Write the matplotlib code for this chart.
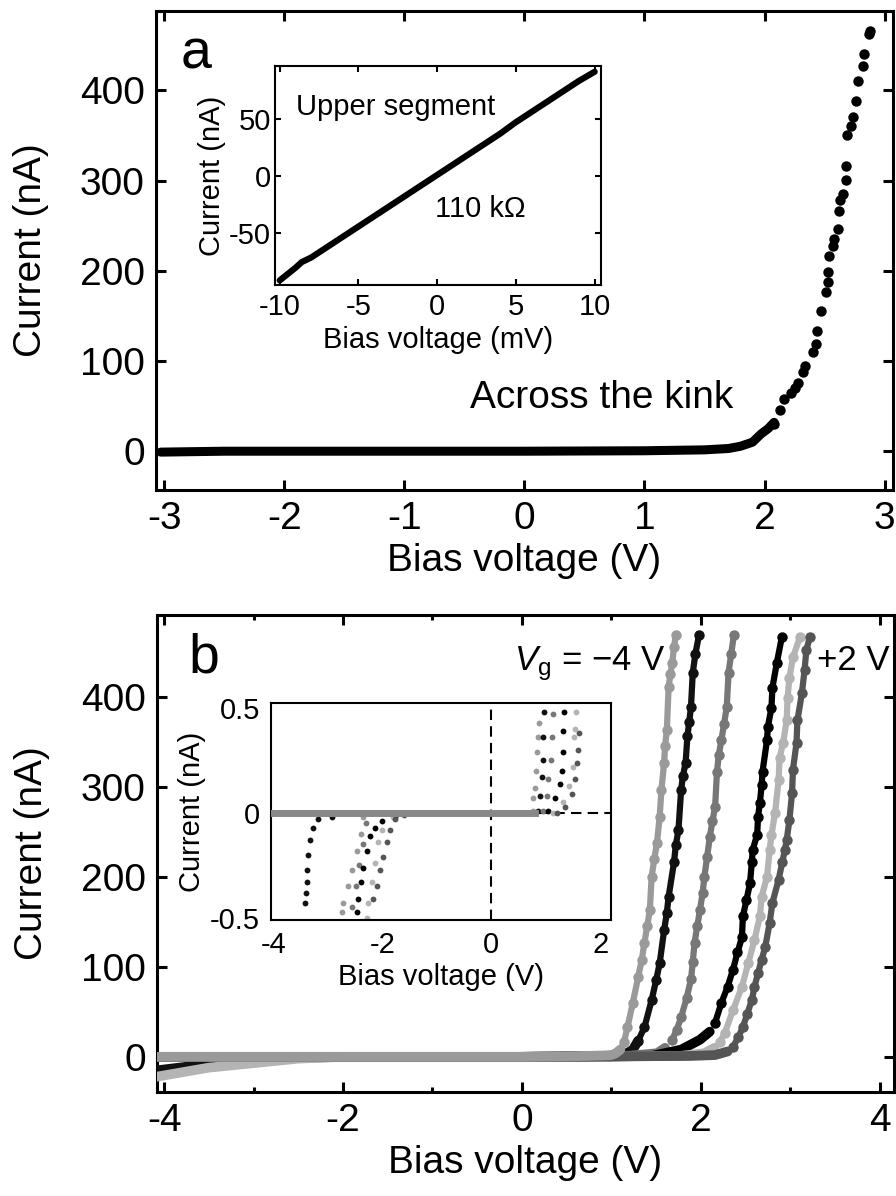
import matplotlib
matplotlib.use('Agg')
import matplotlib.pyplot as plt
from matplotlib.ticker import FixedLocator

plt.rcParams['font.family'] = ['Liberation Sans', 'DejaVu Sans']
plt.rcParams['axes.unicode_minus'] = False
plt.rcParams['mathtext.fontset'] = 'custom'
plt.rcParams['mathtext.rm'] = 'Liberation Sans'
plt.rcParams['mathtext.it'] = 'Liberation Sans:italic'

# ---- panel a: I-V across the kink ----
a_flat_v = [-3.03, -2.5, -2.0, -1.0, 0.0, 1.0, 1.5, 1.7, 1.8, 1.9, 1.97, 2.03, 2.08]
a_flat_i = [-1, 0, 0, 0, 0, 0.5, 1.5, 3, 5.5, 10, 19, 25, 32]
a_rise_v = [2.075, 2.13, 2.16, 2.22, 2.25, 2.275, 2.32, 2.34, 2.40, 2.425, 2.44, 2.47,
            2.51, 2.53, 2.53, 2.54, 2.57, 2.58, 2.61, 2.62, 2.63, 2.65, 2.68, 2.675,
            2.69, 2.72, 2.74, 2.76, 2.775, 2.82, 2.83, 2.87, 2.88]
a_rise_i = [30, 46, 58, 65, 70, 76, 88, 94, 110, 119, 133, 155,
            177, 188, 199, 216, 227, 235, 246, 266, 279, 285, 301, 316,
            351, 360, 371, 388, 410, 427, 440, 462, 466]

# inset a: upper segment, ohmic
ia_v = [-10.0, -9.0, -8.6, -8.0, -7.0, -6.0, -5.0, -4.0, -3.0, -2.0, -1.0, 0.0,
        1.0, 2.0, 3.0, 4.0, 5.0, 6.0, 7.0, 8.0, 9.0, 10.0]
ia_i = [-91, -80, -75, -71, -62, -53, -44, -35, -26, -17, -8, 1,
        10, 19, 28, 37, 47, 56, 65, 74, 83, 91]

# ---- panel b: gate dependence, Vg = -4 V ... +2 V ----
b_colors = ['#9a9a9a', '#111111', '#777777', '#000000', '#b4b4b4', '#555555']

b_flat_v = [
    [-4.08, -3.0, -2.0, -1.0, 0.0, 0.5, 0.9, 1.0, 1.05, 1.10],
    [-4.08, -3.5, -3.0, -2.5, -2.0, 0.0, 1.0, 1.14, 1.24, 1.30],
    [-4.08, -2.0, 0.0, 1.0, 1.18, 1.40, 1.51, 1.60],
    [-4.08, -2.0, 0.0, 1.0, 1.45, 1.78, 1.99, 2.10],
    [-4.08, -3.5, -3.0, -2.5, -2.0, 0.0, 1.0, 1.77, 2.04, 2.15],
    [-4.08, -2.0, 0.0, 1.0, 1.88, 2.16, 2.30],
]
b_flat_i = [
    [0, 0, 0, 0, 0, 0.5, 1.5, 2, 4, 8],
    [-15, -8, -4, -1, 0, 0, 1, 2, 8, 18],
    [0, 0, 0, 0.5, 1, 3, 4, 10],
    [0, 0, 0, 0.5, 1, 8, 19, 28],
    [-22, -12, -7, -2, 0, 0, 0.5, 1, 4, 10],
    [0, 0, 0, 0.5, 1, 2, 6],
]
b_rise_v = [
    [1.10, 1.14, 1.18, 1.24, 1.30, 1.34, 1.37, 1.40, 1.43, 1.45, 1.48, 1.51, 1.54,
     1.56, 1.59, 1.60, 1.62, 1.64, 1.66, 1.68, 1.70, 1.72],
    [1.30, 1.37, 1.45, 1.50, 1.54, 1.59, 1.62, 1.64, 1.70, 1.72, 1.75, 1.78, 1.80,
     1.83, 1.85, 1.87, 1.89, 1.91, 1.94, 1.98],
    [1.68, 1.73, 1.78, 1.84, 1.89, 1.91, 1.93, 1.96, 1.99, 2.02, 2.04, 2.07, 2.10,
     2.13, 2.16, 2.18, 2.20, 2.23, 2.26, 2.29, 2.31, 2.34, 2.37],
    [2.16, 2.23, 2.30, 2.36, 2.41, 2.46, 2.47, 2.51, 2.55, 2.57, 2.58, 2.63, 2.64,
     2.66, 2.68, 2.69, 2.74, 2.75, 2.79, 2.80, 2.85, 2.905],
    [2.21, 2.27, 2.36, 2.46, 2.53, 2.60, 2.66, 2.68, 2.74, 2.77, 2.79, 2.83, 2.87,
     2.88, 2.92, 2.96, 2.97, 2.99, 3.03, 3.11],
    [2.36, 2.42, 2.47, 2.52, 2.57, 2.60, 2.64, 2.68, 2.72, 2.77, 2.80, 2.87, 2.91,
     2.94, 2.96, 2.99, 3.02, 3.03, 3.07, 3.08, 3.13, 3.16, 3.18, 3.22],
]
b_rise_i = [
    [8, 16, 33, 60, 89, 108, 127, 145, 163, 200, 220, 238, 267,
     297, 327, 345, 363, 411, 425, 438, 455, 469],
    [18, 33, 63, 85, 104, 141, 160, 178, 216, 235, 252, 297, 312,
     327, 356, 372, 389, 427, 448, 469],
    [19, 30, 44, 65, 86, 105, 127, 145, 163, 182, 200, 222, 244,
     262, 278, 316, 335, 352, 370, 389, 427, 448, 469],
    [38, 60, 78, 97, 116, 133, 156, 174, 193, 216, 230, 247, 267,
     282, 302, 317, 352, 367, 388, 410, 438, 466],
    [16, 27, 52, 78, 104, 130, 156, 178, 200, 230, 247, 271, 308,
     332, 349, 374, 399, 421, 444, 467],
    [11, 22, 33, 48, 63, 78, 93, 108, 122, 149, 171, 197, 216,
     230, 241, 263, 293, 319, 349, 374, 404, 430, 452, 467],
]

# inset b: threshold region, nA scale
ib_flat_v = [-4.05, -2.0, 0.0, 0.8]
ib_flat_i = [0, 0, 0, 0]
ib_pos_v = [
    [0.77, 0.77, 0.81, 0.83, 0.84, 0.86, 0.88],
    [0.86, 0.90, 0.94, 0.95, 0.95, 0.97],
    [0.95, 1.03, 1.05, 1.10, 1.12, 1.14],
    [1.05, 1.17, 1.27, 1.30, 1.32, 1.32, 1.34],
    [1.14, 1.32, 1.43, 1.50, 1.52, 1.54, 1.56],
    [1.21, 1.36, 1.49, 1.54, 1.58, 1.60, 1.61],
]
ib_pos_i = [
    [0.01, 0.07, 0.12, 0.20, 0.29, 0.36, 0.43],
    [0.01, 0.08, 0.17, 0.25, 0.36, 0.48],
    [0.01, 0.08, 0.16, 0.25, 0.36, 0.47],
    [0.01, 0.07, 0.14, 0.20, 0.29, 0.39, 0.48],
    [0.00, 0.05, 0.13, 0.22, 0.36, 0.40, 0.48],
    [0.00, 0.03, 0.09, 0.16, 0.24, 0.30, 0.38],
]
ib_neg_v = [
    [-2.35, -2.39, -2.46, -2.55, -2.62, -2.72, -2.73],
    [-2.92, -3.17, -3.27, -3.32, -3.36, -3.38, -3.38, -3.39, -3.41],
    [-2.30, -2.36, -2.42, -2.48, -2.55],
    [-1.76, -2.00, -2.13, -2.22, -2.28, -2.35, -2.39, -2.44, -2.46],
    [-1.80, -2.00, -2.07, -2.13, -2.18, -2.26, -2.28],
    [-1.60, -1.76, -1.85, -1.91, -1.98, -2.04, -2.09, -2.17],
]
ib_neg_i = [
    [-0.02, -0.10, -0.18, -0.27, -0.35, -0.43, -0.47],
    [-0.02, -0.03, -0.07, -0.13, -0.20, -0.27, -0.33, -0.38, -0.43],
    [-0.05, -0.15, -0.25, -0.35, -0.45],
    [-0.02, -0.04, -0.07, -0.11, -0.18, -0.26, -0.33, -0.41, -0.47],
    [-0.02, -0.08, -0.14, -0.24, -0.33, -0.43, -0.50],
    [-0.01, -0.03, -0.08, -0.14, -0.21, -0.27, -0.35, -0.41],
]


def style(ax, size, length, width, pad):
    ax.tick_params(which='both', direction='in', top=True, right=True,
                   width=width, labelsize=size, pad=pad)
    ax.tick_params(which='major', length=length)
    ax.tick_params(which='minor', length=length / 2)
    for s in ax.spines.values():
        s.set_linewidth(width)


fig = plt.figure(figsize=(8.96, 11.96), dpi=100)

# panel a
axa = fig.add_axes([0.174, 0.5903, 0.8226, 0.4005])
axa.plot(a_flat_v, a_flat_i, color='k', lw=6.5, solid_capstyle='round')
axa.plot(a_rise_v, a_rise_i, 'o', color='k', ms=7.5, mew=0)
axa.set_xlim(-3.07, 3.07)
axa.set_ylim(-43, 488)
axa.set_xticks(range(-3, 4))
axa.set_yticks([0, 100, 200, 300, 400])
style(axa, 28, 7, 2.2, 8)
axa.set_xlabel('Bias voltage (V)', fontsize=28, labelpad=4)
axa.set_ylabel('Current (nA)', fontsize=28, labelpad=22)
axa.text(0.033, 0.881, 'a', transform=axa.transAxes, fontsize=40)
axa.text(0.426, 0.171, 'Across the kink', transform=axa.transAxes, fontsize=28)

ina = fig.add_axes([0.3069, 0.7617, 0.3638, 0.1831])
ina.plot(ia_v, ia_i, color='k', lw=4.5, solid_capstyle='round')
ina.set_xlim(-10.3, 10.4)
ina.set_ylim(-95, 96)
ina.set_xticks([-10, -5, 0, 5, 10])
ina.set_yticks([-50, 0, 50])
style(ina, 21, 4, 1.5, 3)
ina.tick_params(axis='x', pad=6)
ina.set_xlabel('Bias voltage (mV)', fontsize=21, labelpad=3)
ina.set_ylabel('Current (nA)', fontsize=21, labelpad=2)
ina.text(0.064, 0.776, 'Upper segment', transform=ina.transAxes, fontsize=21)
ina.text(0.49, 0.31, '110 k\u03a9', transform=ina.transAxes, fontsize=21)

# panel b
axb = fig.add_axes([0.1752, 0.0870, 0.8226, 0.3988])
for k in range(len(b_colors)):
    axb.plot(b_flat_v[k], b_flat_i[k], color=b_colors[k], lw=7,
             solid_capstyle='round', zorder=3 if k else 4)
    axb.plot(b_rise_v[k], b_rise_i[k], 'o-', color=b_colors[k], ms=7.5, mew=0,
             lw=4.5, zorder=3)
axb.set_xlim(-4.08, 4.16)
axb.set_ylim(-39, 491)
axb.set_xticks([-4, -2, 0, 2, 4])
axb.xaxis.set_minor_locator(FixedLocator([-3, -1, 1, 3]))
axb.set_yticks([0, 100, 200, 300, 400])
style(axb, 28, 7, 2.2, 8)
axb.set_xlabel('Bias voltage (V)', fontsize=28, labelpad=4)
axb.set_ylabel('Current (nA)', fontsize=28, labelpad=22)
axb.text(0.042, 0.88, 'b', transform=axb.transAxes, fontsize=40)
axb.text(0.485, 0.885, '$V_\\mathrm{g}$ = \u22124 V', transform=axb.transAxes,
         fontsize=25)
axb.text(0.895, 0.885, '+2 V', transform=axb.transAxes, fontsize=25)

inb = fig.add_axes([0.3025, 0.2308, 0.3795, 0.1814])
inb.axvline(0, color='k', lw=1.5, ls=(0, (5, 3)), zorder=1)
inb.axhline(0, color='k', lw=1.5, ls=(0, (5, 3)), zorder=1)
for k in range(len(b_colors)):
    inb.plot(ib_pos_v[k], ib_pos_i[k], 'o', color=b_colors[k], ms=4.2, mew=0)
    inb.plot(ib_neg_v[k], ib_neg_i[k], 'o', color=b_colors[k], ms=4.2, mew=0)
inb.plot(ib_flat_v, ib_flat_i, color='#888888', lw=5, zorder=4)
inb.set_xlim(-4.04, 2.2)
inb.set_ylim(-0.51, 0.524)
inb.set_xticks([-4, -2, 0, 2])
inb.set_yticks([-0.5, 0, 0.5])
inb.set_yticklabels(['-0.5', '0', '0.5'])
style(inb, 21, 0, 1.5, 8)
inb.set_xlabel('Bias voltage (V)', fontsize=21, labelpad=3)
inb.set_ylabel('Current (nA)', fontsize=21, labelpad=3)

fig.savefig('out.png', dpi=100)
